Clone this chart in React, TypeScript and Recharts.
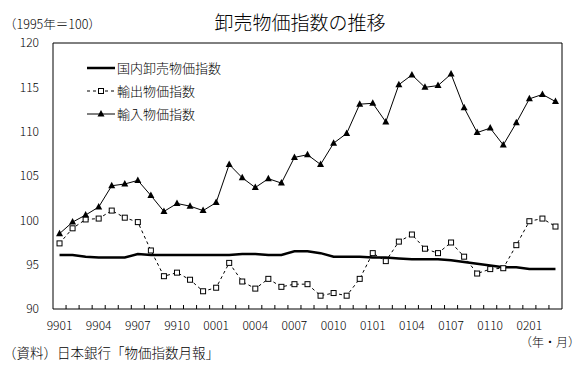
import { LineChart, Line, XAxis, YAxis, ReferenceArea, Legend } from "recharts";

// 月（年下2桁＋月）
const months = [
  "9901", "9902", "9903", "9904", "9905", "9906", "9907", "9908", "9909", "9910", "9911", "9912",
  "0001", "0002", "0003", "0004", "0005", "0006", "0007", "0008", "0009", "0010", "0011", "0012",
  "0101", "0102", "0103", "0104", "0105", "0106", "0107", "0108", "0109", "0110", "0111", "0112",
  "0201", "0202", "0203",
];
const labelIdx = [0, 3, 6, 9, 12, 15, 18, 21, 24, 27, 30, 33, 36];
const yTicks = [90, 95, 100, 105, 110, 115, 120];

const domestic = [
  96.1, 96.1, 95.9, 95.8, 95.8, 95.8, 96.2, 96.1, 96.1, 96.1, 96.1, 96.1,
  96.1, 96.1, 96.2, 96.2, 96.1, 96.1, 96.5, 96.5, 96.3, 95.9, 95.9, 95.9,
  95.8, 95.8, 95.7, 95.6, 95.6, 95.6, 95.5, 95.3, 95.1, 94.9, 94.7, 94.7,
  94.5, 94.5, 94.5,
];
const exportPrices = [
  97.4, 99.1, 100.1, 100.2, 101.1, 100.3, 99.8, 96.6, 93.7, 94.1, 93.3, 92.0,
  92.4, 95.2, 93.1, 92.3, 93.4, 92.5, 92.8, 92.8, 91.5, 91.8, 91.5, 93.4,
  96.3, 95.4, 97.6, 98.4, 96.8, 96.3, 97.5, 95.9, 94.0, 94.5, 94.6, 97.2,
  99.9, 100.2, 99.3,
];
const importPrices = [
  98.5, 99.8, 100.6, 101.5, 103.9, 104.1, 104.5, 102.8, 101.0, 101.9, 101.6, 101.1,
  102.0, 106.3, 104.8, 103.7, 104.7, 104.2, 107.1, 107.4, 106.3, 108.7, 109.8, 113.1,
  113.2, 111.1, 115.3, 116.4, 115.0, 115.2, 116.5, 112.7, 109.9, 110.4, 108.5, 111.0,
  113.7, 114.2, 113.4,
];

const data = months.map((m, i) => ({
  i,
  m,
  domestic: domestic[i],
  exp: exportPrices[i],
  imp: importPrices[i],
}));

// 目盛り線は月の境目
const minorTicks = months.slice(1).map((_, k) => k + 0.5);
const xDomain = [-0.5, months.length - 0.5];
const legendOrder = ["domestic", "exp", "imp"];

const FONT = "'Noto Sans CJK JP', 'Liberation Sans', sans-serif";

function Square(props: any) {
  const { cx, cy, index } = props;
  return (
    <rect key={`sq-${index}`} x={cx - 2.5} y={cy - 2.5} width={5} height={5}
      fill="#fff" stroke="#000" strokeWidth={1} />
  );
}

function Triangle(props: any) {
  const { cx, cy, index } = props;
  return (
    <polygon key={`tr-${index}`}
      points={`${cx},${cy - 4} ${cx - 3.5},${cy + 2.5} ${cx + 3.5},${cy + 2.5}`}
      fill="#000" />
  );
}

function LegendSample({ dataKey }: { dataKey: string }) {
  if (dataKey === "domestic") {
    return <svg width={30} height={10}><line x1={1} y1={5} x2={29} y2={5} stroke="#000" strokeWidth={2.5} /></svg>;
  }
  if (dataKey === "exp") {
    return (
      <svg width={30} height={10}>
        <line x1={1} y1={5} x2={29} y2={5} stroke="#000" strokeDasharray="3 3" />
        <rect x={12.5} y={2.5} width={5} height={5} fill="#fff" stroke="#000" />
      </svg>
    );
  }
  return (
    <svg width={30} height={10}>
      <line x1={1} y1={5} x2={29} y2={5} stroke="#000" />
      <polygon points="15,1 11.5,7.5 18.5,7.5" fill="#000" />
    </svg>
  );
}

function renderLegend(props: any) {
  const items = [...(props.payload || [])].sort(
    (a: any, b: any) => legendOrder.indexOf(a.dataKey) - legendOrder.indexOf(b.dataKey)
  );
  return (
    <div style={{ fontFamily: FONT, fontSize: 13, fontWeight: 300, color: "#000" }}>
      {items.map((it: any) => (
        <div key={it.dataKey} style={{ display: "flex", alignItems: "center", height: 23 }}>
          <LegendSample dataKey={it.dataKey} />
          <span style={{ marginLeft: 1, lineHeight: "13px" }}>{it.value}</span>
        </div>
      ))}
    </div>
  );
}

const tickStyle = { fontSize: 12, fill: "#000", fontFamily: FONT, fontWeight: 300 };

export default function App() {
  return (
    <div style={{ position: "absolute", left: 0, top: 0, width: 583, height: 370, background: "#fff", fontFamily: FONT, fontWeight: 300, color: "#000" }}>
      <div style={{ position: "absolute", left: 150, width: 300, top: 12, textAlign: "center", fontSize: 19, lineHeight: "19px" }}>
        卸売物価指数の推移
      </div>
      <div style={{ position: "absolute", left: 4, top: 17, fontSize: 12.5, lineHeight: "13px" }}>
        （1995年＝100）
      </div>
      <LineChart width={583} height={370} data={data} margin={{ top: 43, right: 21, bottom: 31, left: 0 }}>
        <XAxis xAxisId="m" type="number" dataKey="i" domain={xDomain} ticks={minorTicks} interval={0}
          tickFormatter={() => ""} tickSize={4} mirror axisLine={false} height={1}
          tickLine={{ stroke: "#000" }} allowDataOverflow />
        <XAxis type="number" dataKey="i" domain={xDomain} ticks={labelIdx} interval={0}
          tickFormatter={(v: number) => months[v]} tickLine={false} axisLine={false}
          height={30} tickMargin={6} tick={tickStyle} allowDataOverflow />
        <YAxis type="number" domain={[90, 120]} ticks={yTicks} interval={0} width={53}
          tickLine={false} axisLine={false} tickMargin={8} tick={tickStyle} allowDataOverflow />
        <ReferenceArea x1={xDomain[0]} x2={xDomain[1]} y1={90} y2={120} fill="none" fillOpacity={0}
          stroke="#000" strokeWidth={1} ifOverflow="visible" />
        <Legend layout="vertical" verticalAlign="middle" align="center" content={renderLegend}
          wrapperStyle={{ left: 86, top: 56, width: 220 }} />
        <Line dataKey="domestic" name="国内卸売物価指数" type="linear" stroke="#000" strokeWidth={2.5}
          dot={false} activeDot={false} isAnimationActive={false} />
        <Line dataKey="exp" name="輸出物価指数" type="linear" stroke="#000" strokeWidth={1}
          strokeDasharray="3 3" dot={Square} activeDot={false} isAnimationActive={false} />
        <Line dataKey="imp" name="輸入物価指数" type="linear" stroke="#000" strokeWidth={1}
          dot={Triangle} activeDot={false} isAnimationActive={false} />
      </LineChart>
      <div style={{ position: "absolute", left: 3, top: 345, fontSize: 13.5, lineHeight: "14px" }}>
        （資料）日本銀行「物価指数月報」
      </div>
      <div style={{ position: "absolute", right: 3, top: 336, fontSize: 12, lineHeight: "12px" }}>
        （年・月）
      </div>
    </div>
  );
}
